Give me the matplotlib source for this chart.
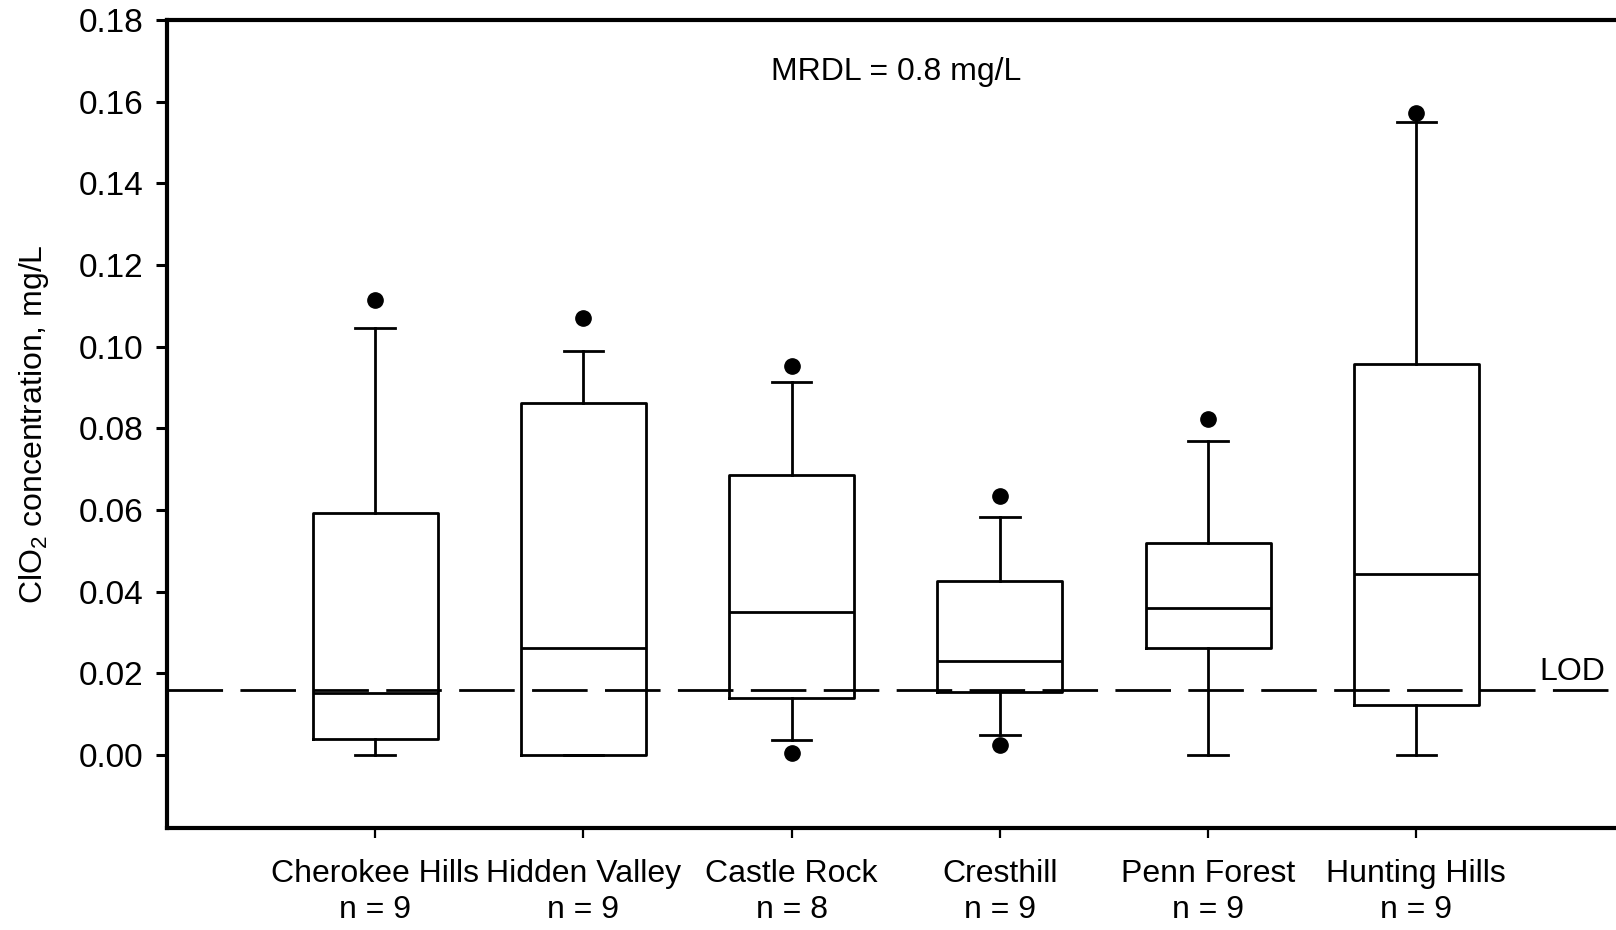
import numpy as np
import matplotlib.pyplot as plt

plt.rcParams['font.family'] = ['Liberation Sans', 'DejaVu Sans']
plt.rcParams['mathtext.fontset'] = 'custom'
plt.rcParams['mathtext.rm'] = 'Liberation Sans'
plt.rcParams['lines.scale_dashes'] = False

# Summary statistics per site (mg/L)
sites = ['Cherokee Hills', 'Hidden Valley', 'Castle Rock', 'Cresthill', 'Penn Forest', 'Hunting Hills']
n_samples = [9, 9, 8, 9, 9, 9]
whisker_low = [0.0, 0.0, 0.0037, 0.0049, 0.0, 0.0]
q1 = [0.0038, 0.0, 0.0140, 0.0153, 0.0262, 0.0122]
median = [0.0152, 0.0261, 0.0351, 0.0230, 0.0361, 0.0442]
q3 = [0.0592, 0.0861, 0.0685, 0.0427, 0.0518, 0.0958]
whisker_high = [0.1046, 0.0990, 0.0914, 0.0582, 0.0770, 0.1549]
outliers = [[0.1113], [0.1071], [0.0953, 0.0004], [0.0633, 0.0024], [0.0822], [0.1571]]

lod = 0.0159
mrdl_text = 'MRDL = 0.8 mg/L'

stats = []
for i in range(len(sites)):
    stats.append({'whislo': whisker_low[i], 'q1': q1[i], 'med': median[i],
                  'q3': q3[i], 'whishi': whisker_high[i], 'fliers': outliers[i]})

fig = plt.figure(figsize=(16.16, 9.30), dpi=100)
ax = fig.add_axes([0.1033, 0.1097, 0.9020, 0.8688])

lw = 2.0
line_props = dict(color='black', linewidth=lw)
positions = np.arange(1, len(sites) + 1)
ax.bxp(stats, positions=positions, widths=0.6, capwidths=0.19,
       boxprops=line_props, whiskerprops=line_props, capprops=line_props,
       medianprops=line_props,
       flierprops=dict(marker='o', markerfacecolor='black', markeredgecolor='black',
                       markersize=11, linestyle='none'))

# Limit of detection
ax.axhline(lod, color='black', linewidth=lw, linestyle=(0, (40, 12.5)), zorder=3)
ax.text(6.59, lod + 0.0007, 'LOD', fontsize=23, ha='left', va='bottom')
ax.text(3.5, 0.1673, mrdl_text, fontsize=23, ha='center', va='center')

ax.set_xlim(0, 7)
ax.set_ylim(-0.0179, 0.18)
ax.set_yticks(np.arange(0, 0.181, 0.02))
ax.set_yticklabels([f'{v:.2f}' for v in np.arange(0, 0.181, 0.02)])
ax.set_xticks(positions)
ax.set_xticklabels([f'{s}\nn = {n}' for s, n in zip(sites, n_samples)], linespacing=1.3)

ax.tick_params(axis='y', direction='out', length=8, width=2.2, labelsize=24, pad=9)
ax.tick_params(axis='x', direction='out', length=7, width=1.6, labelsize=23, pad=15)
for side in ['left', 'top', 'bottom', 'right']:
    ax.spines[side].set_linewidth(3)

ax.set_ylabel(r'ClO$_\mathregular{2}$ concentration, mg/L', fontsize=23, labelpad=20)

fig.savefig('out.png', dpi=100)
